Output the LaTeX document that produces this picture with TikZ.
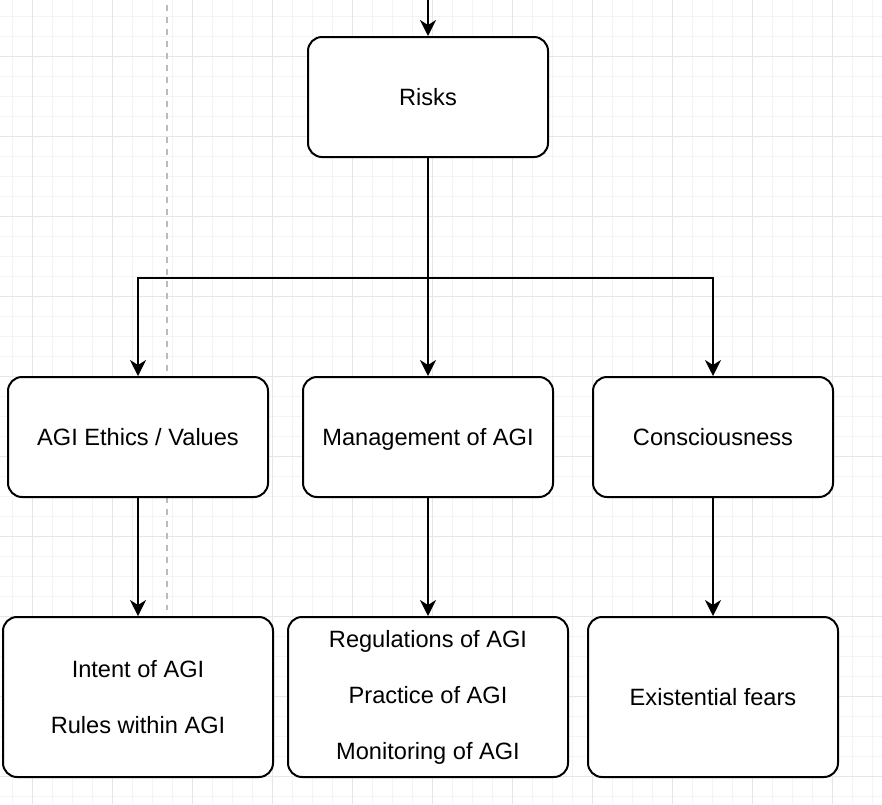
\documentclass[tikz,border=0pt]{standalone}
\usepackage{fontspec}
\setmainfont{Liberation Sans}
\usetikzlibrary{arrows.meta}
\definecolor{gridminor}{HTML}{F4F4F4}
\definecolor{gridmajor}{HTML}{E6E6E6}
\definecolor{guide}{HTML}{BBBBBB}
\tikzstyle{arrow} = [line width=1pt,-{Stealth[length=8pt,width=8pt,inset=2.5pt]}]
\tikzstyle{box} = [draw, line width=1pt, rounded corners=7pt, fill=white, align=center, inner sep=0pt, minimum height=60pt, font=\fontsize{11.8}{14}\selectfont]
\tikzstyle{oneline} = [box, text height=8.4pt, text depth=0pt]

\begin{document}
\begin{tikzpicture}[x=0.5pt,y=-0.5pt]
    % background grid
    \useasboundingbox (0,0) rectangle (882,804);
    \fill[white] (0,0) rectangle (882,804);
    \foreach \x in {12.7,32.7,...,882} \draw[gridminor, line width=0.5pt] (\x,0) -- (\x,804);
    \foreach \y in {16.7,36.7,...,804} \draw[gridminor, line width=0.5pt] (0,\y) -- (882,\y);
    \foreach \x in {32.7,112.7,...,882} \draw[gridmajor, line width=0.75pt] (\x,0) -- (\x,804);
    \foreach \y in {56.7,136.7,...,804} \draw[gridmajor, line width=0.75pt] (0,\y) -- (882,\y);
    \draw[guide, line width=1pt, dash pattern=on 3pt off 3pt] (166.7,5) -- (166.7,610);
    % create the nodes
    \node (risks)  [oneline, minimum width=120pt] at (428,97) {Risks};
    \node (ethics) [oneline, minimum width=130pt] at (138,437) {AGI Ethics / Values};
    \node (mgmt)   [oneline, minimum width=125pt] at (428,437) {Management of AGI};
    \node (consc)  [oneline, minimum width=120pt] at (713,437) {Consciousness};
    \node (intent) [box, minimum width=135pt, minimum height=80pt] at (138,697) {Intent of AGI\\[14pt]Rules within AGI};
    \node (regs)   [box, minimum width=140pt, minimum height=80pt] at (428,697) {Regulations of AGI\\[14pt]Practice of AGI\\[14pt]Monitoring of AGI};
    \node (fears)  [oneline, minimum width=125pt, minimum height=80pt] at (713,697) {Existential fears};
    \coordinate (top) at (428,0);
    % connect the nodes
    \draw[arrow] (top) -- (risks);
    \draw[arrow] (risks) -- (mgmt);
    \draw[arrow] (risks.south) -- ++(0,120) -| (ethics.north);
    \draw[arrow] (risks.south) -- ++(0,120) -| (consc.north);
    \draw[arrow] (ethics) -- (intent);
    \draw[arrow] (mgmt) -- (regs);
    \draw[arrow] (consc) -- (fears);
\end{tikzpicture}
\end{document}
